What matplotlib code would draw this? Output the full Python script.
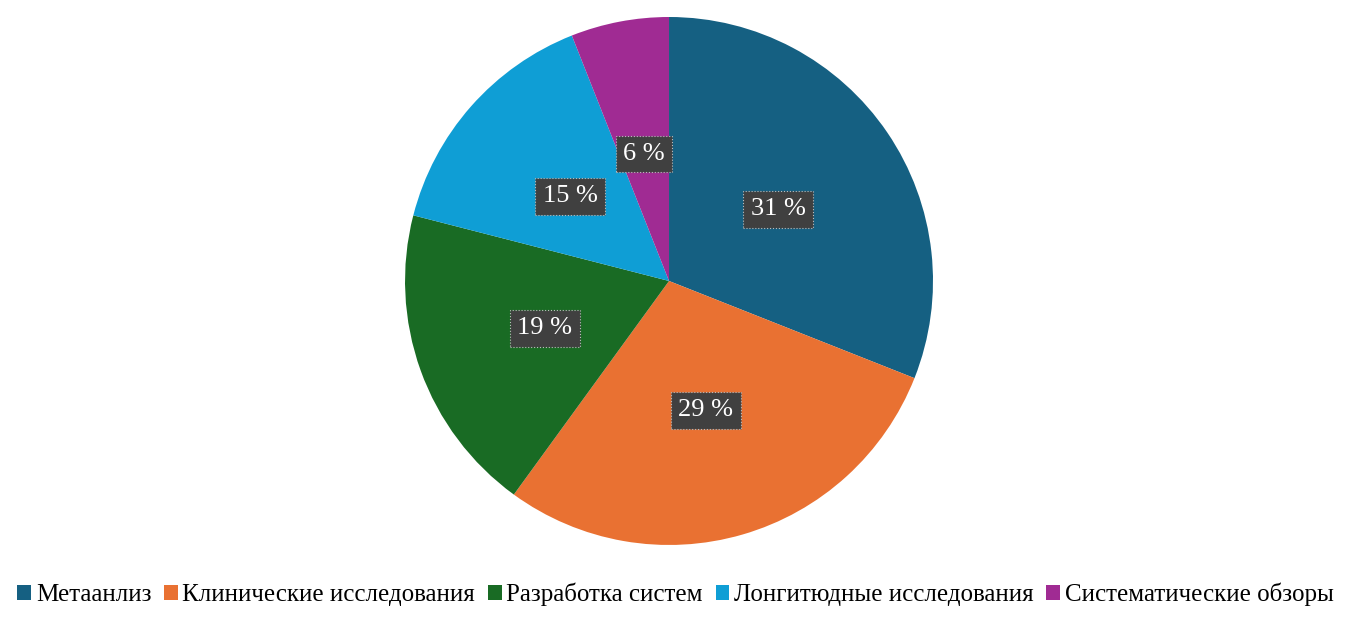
import matplotlib.pyplot as plt
from matplotlib.patches import Patch

plt.rcParams['font.family'] = ['Liberation Serif', 'DejaVu Serif']

categorias = ["Метаанлиз", "Клинические исследования", "Разработка систем",
              "Лонгитюдные исследования", "Систематические обзоры"]
valores = [31, 29, 19, 15, 6]
cores = ["#156082", "#E97132", "#196B24", "#0F9ED5", "#A02B93"]

fig = plt.figure(figsize=(13.51, 6.17), dpi=100)
ax = fig.add_axes([0.2998, 0.1167, 0.3908, 0.8558])

wedges, textos, pcts = ax.pie(valores, colors=cores, startangle=90, counterclock=False,
                              autopct=lambda p: f"{p:.0f} %", pctdistance=0.5,
                              wedgeprops=dict(linewidth=0))
for t in pcts:
    t.set_color("white")
    t.set_fontsize(19)
    x, y = t.get_position()
    t.set_position((x, y - 0.01))
    t.set_bbox(dict(boxstyle="square,pad=0.28", facecolor="#404040",
                    edgecolor="#bbbbbb", linestyle=":", linewidth=0.8))
ax.set_aspect("equal")
ax.set_xlim(-1, 1)
ax.set_ylim(-1, 1)

handles = [Patch(facecolor=c, edgecolor="none") for c in cores]
fig.legend(handles, categorias, loc="center", bbox_to_anchor=(0.5, 0.037), ncol=5,
           frameon=False, fontsize=18, handlelength=0.55, handleheight=0.55,
           handletextpad=0.2, columnspacing=0.5)

fig.savefig("out.png", dpi=100)
